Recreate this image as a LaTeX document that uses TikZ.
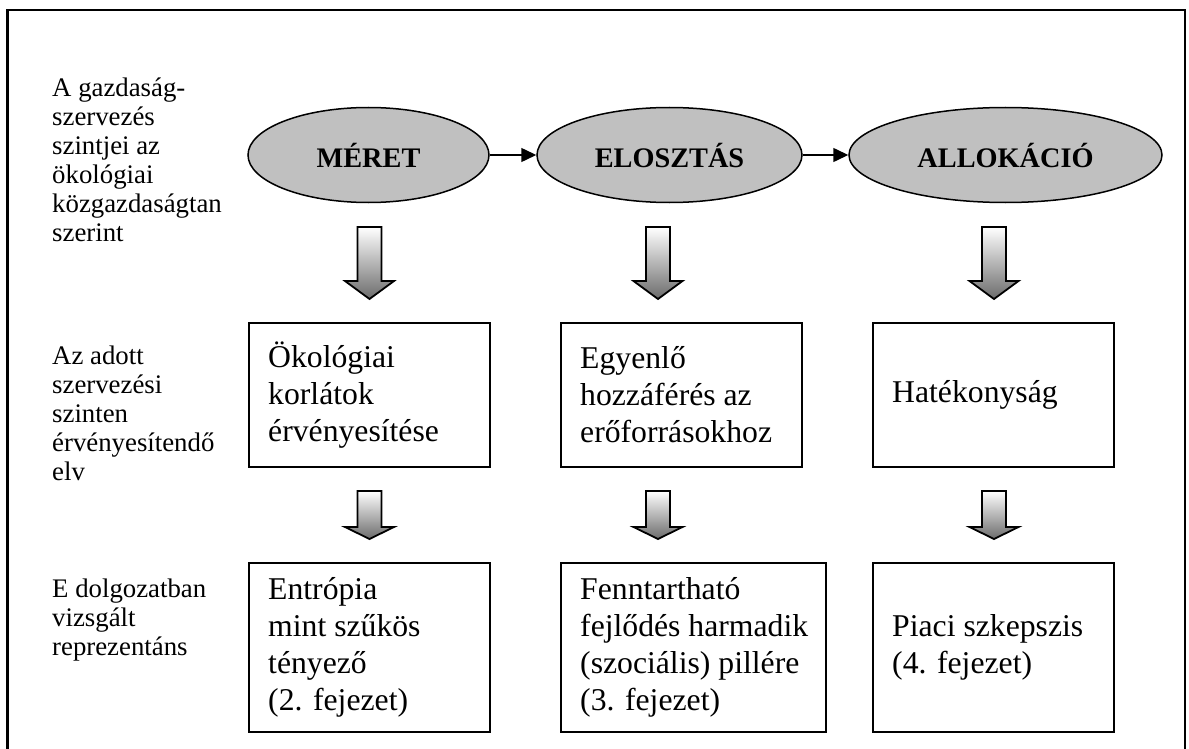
\documentclass[tikz,border=0pt]{standalone}
\usepackage{fontspec}
\setmainfont{Liberation Serif}
\usetikzlibrary{shapes.geometric,arrows.meta}
\definecolor{ellfill}{HTML}{C0C0C0}
\newcommand\blkarrow[4]{% x, ytop, yhead, ytip
  \draw[barrow] ({#1-12},#2) -- ({#1+12},#2) -- ({#1+12},#3) -- ({#1+24.5},#3)
    -- (#1,#4) -- ({#1-24.5},#3) -- ({#1-12},#3) -- cycle;}
\begin{document}
\begin{tikzpicture}[x=1pt,y=-1pt,
  lvl/.style={ellipse, draw, line width=1.5pt, fill=ellfill, inner sep=0pt,
    minimum height=95pt, font=\fontsize{28.3pt}{30pt}\selectfont\bfseries},
  flow/.style={line width=1.5pt, -{Triangle[length=15pt,width=14pt]}},
  sidelabel/.style={anchor=west, align=left, inner sep=0pt,
    font=\fontsize{26.8pt}{29pt}\selectfont},
  pbox/.style={draw, line width=2pt, inner sep=0pt},
  boxtext/.style={anchor=west, align=left, inner sep=0pt,
    font=\fontsize{31.7pt}{37pt}\selectfont},
  barrow/.style={draw, line width=1.8pt, top color=white, bottom color=black!58, line join=miter}
]
\useasboundingbox (0,0) rectangle (1189,749);
\draw[line width=2.5pt] (7.5,10) rectangle (1185,760);

% side labels
\node[sidelabel] (l1) at (52,160) {A gazdaság-\\szervezés\\szintjei az\\ökológiai\\közgazdaságtan\\szerint};
\node[sidelabel] (l2) at (52,413.5) {Az adott\\szervezési\\szinten\\érvényesítendő\\elv};
\node[sidelabel] (l3) at (52,620) {E dolgozatban\\vizsgált\\reprezentáns};

% ellipses
\node[lvl, minimum width=241pt] (meret) at (368.5,155) {MÉRET};
\node[lvl, minimum width=265pt] (eloszt) at (669.5,155) {ELOSZTÁS};
\node[lvl, minimum width=313pt] (alloc) at (1005.5,155) {ALLOKÁCIÓ};
\draw[flow] (meret.east) -- (eloszt.west);
\draw[flow] (eloszt.east) -- (alloc.west);

% row 2 boxes
\node[pbox, minimum width=241pt, minimum height=144pt] (b21) at (369.5,395) {};
\node[pbox, minimum width=241pt, minimum height=144pt] (b22) at (681.5,395) {};
\node[pbox, minimum width=241pt, minimum height=144pt] (b23) at (993.5,395) {};
\node[boxtext] (t21) at ([xshift=20pt]b21.west) {Ökológiai\\korlátok\\érvényesítése};
\node[boxtext] (t22) at ([xshift=20pt]b22.west) {Egyenlő\\hozzáférés az\\erőforrásokhoz};
\node[boxtext] (t23) at ([xshift=20pt]b23.west) {Hatékonyság};

% row 3 boxes
\node[pbox, minimum width=241pt, minimum height=169pt] (b31) at (369.5,647.5) {};
\node[pbox, minimum width=265pt, minimum height=169pt] (b32) at (693.5,647.5) {};
\node[pbox, minimum width=241pt, minimum height=169pt] (b33) at (993.5,647.5) {};
\node[boxtext] (t31) at ([xshift=20pt]b31.west) {Entrópia\\mint szűkös\\tényező\\(2. fejezet)};
\node[boxtext] (t32) at ([xshift=20pt]b32.west) {Fenntartható\\fejlődés harmadik\\(szociális) pillére\\(3. fejezet)};
\node[boxtext] (t33) at ([xshift=20pt]b33.west) {Piaci szkepszis\\(4. fejezet)};

% block arrows
\blkarrow{369.5}{227}{281}{299}
\blkarrow{658}{227}{281}{299}
\blkarrow{994}{227}{281}{299}
\blkarrow{369.5}{491}{527}{539}
\blkarrow{658}{491}{527}{539}
\blkarrow{994}{491}{527}{539}
\end{tikzpicture}
\end{document}
